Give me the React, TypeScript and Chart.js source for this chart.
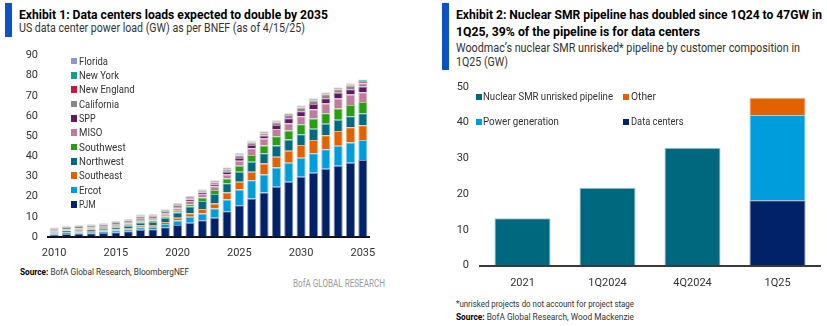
import React, { useEffect, useLayoutEffect, useRef } from "react";
import { Chart, registerables } from "chart.js";
Chart.register(...registerables);

const FONT = "Roboto, 'Noto Sans', 'DejaVu Sans', sans-serif";

// ---------- Exhibit 1 data ----------
const years = ["2010","2011","2012","2013","2014","2015","2016","2017","2018","2019","2020","2021","2022","2023","2024","2025","2026","2027","2028","2029","2030","2031","2032","2033","2034","2035"];
const yearTicksShown = ["2010","2015","2020","2025","2030","2035"];
const pjm = [1.3,1.5,1.7,1.8,2.0,2.4,2.8,3.6,3.8,4.8,6.0,7.1,8.3,9.6,12.8,15.8,19.1,22.1,24.9,27.4,29.9,31.9,33.8,35.3,36.8,38.2];
const ercot = [0.5,0.6,0.6,0.7,0.8,0.9,1.0,1.2,1.3,1.6,2.2,3.0,3.3,4.5,5.8,7.8,9.1,8.9,9.6,9.4,9.4,9.6,9.7,10.0,10.0,9.9];
const southeast = [0.4,0.4,0.5,0.5,0.5,0.6,0.7,0.9,0.9,1.1,1.3,1.7,2.3,2.5,3.5,3.8,4.2,5.5,5.3,6.0,6.3,6.6,6.9,7.3,7.6,7.3];
const northwest = [0.5,0.6,0.6,0.7,0.7,0.9,1.1,1.5,1.6,2.0,2.6,3.3,3.9,4.7,4.5,5.0,4.9,5.0,5.6,5.5,5.3,5.6,5.8,5.6,5.5,6.0];
const southwest = [0.3,0.3,0.4,0.4,0.4,0.5,0.5,0.6,0.6,0.7,0.9,1.1,1.8,2.0,2.4,2.9,3.3,3.9,4.6,4.5,5.0,5.0,5.2,5.5,5.6,5.6];
const miso = [0.4,0.4,0.5,0.5,0.5,0.6,0.7,0.8,0.8,1.0,1.2,1.6,1.7,1.9,2.0,2.5,3.4,3.5,3.6,3.6,4.0,4.7,4.8,5.0,5.2,4.8];
const spp = [0.2,0.2,0.2,0.2,0.3,0.3,0.3,0.4,0.4,0.5,0.6,0.8,0.8,1.0,1.4,1.4,1.6,1.4,1.9,2.5,2.5,2.6,2.6,2.8,2.6,2.8];
const california = [0.8,0.9,0.9,1.0,1.1,1.2,1.2,1.3,1.1,1.2,1.1,0.8,0.8,1.0,1.1,1.3,1.2,1.1,1.4,1.6,1.8,1.7,2.0,1.8,1.8,1.6];
const newEngland = [0.2,0.2,0.2,0.2,0.2,0.2,0.3,0.3,0.3,0.3,0.3,0.3,0.3,0.4,0.4,0.4,0.4,0.5,0.4,0.4,0.4,0.4,0.4,0.4,0.5,0.7];
const newYork = [0.1,0.2,0.2,0.2,0.2,0.2,0.2,0.3,0.3,0.3,0.3,0.3,0.3,0.3,0.3,0.3,0.3,0.4,0.3,0.3,0.3,0.3,0.3,0.2,0.4,0.5];
const florida = [0.1,0.1,0.1,0.1,0.1,0.2,0.2,0.3,0.3,0.3,0.3,0.3,0.2,0.3,0.3,0.3,0.3,0.3,0.3,0.2,0.3,0.3,0.3,0.2,0.3,0.7];
const regionNames = ["PJM","Ercot","Southeast","Northwest","Southwest","MISO","SPP","California","New England","New York","Florida"];
const y1Max = 90;

// ---------- Exhibit 2 data ----------
const periods = ["2021","1Q2024","4Q2024","1Q25"];
const pipeline = [13.3, 21.8, 33.0, null];
const dataCenters = [null, null, null, 18.3];
const powerGeneration = [null, null, null, 23.9];
const otherUse = [null, null, null, 4.8];
const y2Max = 50;

// ---------- styles ----------
const regionColors = ["#012169","#009ddc","#e36200","#006b80","#2a9e12","#c07c9e","#5c1c62","#8f8687","#d3133d","#16a08c","#8a9bc6"];
const regionBorders = ["#8090b4","#80ceed","#f1b080","#80b5c0","#94ce88","#dfbdce","#ad8db0","#c7c2c3","#e9899e","#8acfc5","#c4cde2"];
const c2 = { pipeline: "#00687e", dc: "#012169", pg: "#009ddc", other: "#e36200" };
const c2b = { pipeline: "#9fcad3", dc: "#7a87ad", pg: "#8fd3f0", other: "#f3b58a" };

type FTProps = { x: number; base: number; w: number; size: number; bold?: boolean; color?: string; children: React.ReactNode };
function FitText({ x, base, w, size, bold, color, children }: FTProps) {
  const ref = useRef<HTMLDivElement>(null);
  useLayoutEffect(() => {
    const el = ref.current;
    if (!el) return;
    el.style.transform = "none";
    const nat = el.getBoundingClientRect().width;
    if (nat > 0) el.style.transform = `scaleX(${w / nat})`;
  });
  return (
    <div
      ref={ref}
      style={{
        position: "absolute",
        left: x,
        top: base - size * 0.842,
        fontSize: size,
        lineHeight: `${size}px`,
        fontWeight: bold ? 700 : 400,
        color: color || "#222",
        whiteSpace: "nowrap",
        transformOrigin: "0 0",
        fontFamily: FONT,
      }}
    >
      {children}
    </div>
  );
}

function Box({ x, y, size, color }: { x: number; y: number; size: number; color: string }) {
  return <div style={{ position: "absolute", left: x, top: y, width: size, height: size, background: color }} />;
}

const hiddenTickGrid = (len: number) => ({
  display: true,
  drawOnChartArea: false,
  drawTicks: true,
  tickLength: len,
  color: "rgba(0,0,0,0)",
});

function Chart1() {
  const ref = useRef<HTMLCanvasElement>(null);
  useEffect(() => {
    const series = [pjm, ercot, southeast, northwest, southwest, miso, spp, california, newEngland, newYork, florida];
    const chart = new Chart(ref.current!, {
      type: "bar",
      data: {
        labels: years,
        datasets: series.map((d, i) => ({
          label: regionNames[i],
          data: d,
          backgroundColor: regionColors[i],
          borderColor: regionBorders[i],
          borderWidth: 1,
          barPercentage: 0.74,
          categoryPercentage: 1,
        })),
      },
      options: {
        animation: false,
        responsive: false,
        layout: { padding: { top: 15.5, right: 31, left: 0, bottom: 0 } },
        plugins: { legend: { display: false }, tooltip: { enabled: false } },
        scales: {
          x: {
            stacked: true,
            grid: { display: false, drawTicks: false },
            border: { color: "#111", width: 2 },
            ticks: {
              autoSkip: false,
              maxRotation: 0,
              padding: 10,
              color: "#333",
              font: { family: FONT, size: 11 },
              callback: (_v: any, i: number) => (yearTicksShown.includes(years[i]) ? years[i] : ""),
            },
            afterFit: (s: any) => { s.height = 25; },
          },
          y: {
            stacked: true,
            min: 0,
            max: y1Max,
            grid: hiddenTickGrid(10),
            border: { display: false },
            ticks: { stepSize: 10, padding: 0, color: "#333", font: { family: FONT, size: 11 } },
            afterFit: (s: any) => { s.width = 48; },
          },
        },
      },
    } as any);
    return () => chart.destroy();
  }, []);
  return <canvas ref={ref} width={400} height={222} style={{ position: "absolute", left: 0, top: 40, width: 400, height: 222 }} />;
}

function Chart2() {
  const ref = useRef<HTMLCanvasElement>(null);
  useEffect(() => {
    const mk = (label: string, data: (number | null)[], bg: string, bc: string) => ({
      label, data, backgroundColor: bg, borderColor: bc, borderWidth: 1, barPercentage: 0.66, categoryPercentage: 1,
    });
    const chart = new Chart(ref.current!, {
      type: "bar",
      data: {
        labels: periods,
        datasets: [
          mk("Nuclear SMR unrisked pipeline", pipeline, c2.pipeline, c2b.pipeline),
          mk("Data centers", dataCenters, c2.dc, c2b.dc),
          mk("Power generation", powerGeneration, c2.pg, c2b.pg),
          mk("Other", otherUse, c2.other, c2b.other),
        ],
      },
      options: {
        animation: false,
        responsive: false,
        layout: { padding: { top: 9, right: 7, left: 0, bottom: 0 } },
        plugins: { legend: { display: false }, tooltip: { enabled: false } },
        scales: {
          x: {
            stacked: true,
            grid: { display: false, drawTicks: false },
            border: { color: "#3a3a3a", width: 2 },
            ticks: { maxRotation: 0, padding: 10.5, color: "#333", font: { family: FONT, size: 11 } },
            afterFit: (s: any) => { s.height = 27.3; },
          },
          y: {
            stacked: true,
            min: 0,
            max: y2Max,
            grid: hiddenTickGrid(11),
            border: { display: false },
            ticks: { stepSize: 10, padding: 0, color: "#333", font: { family: FONT, size: 11 } },
            afterFit: (s: any) => { s.width = 70; },
          },
        },
      },
    } as any);
    return () => chart.destroy();
  }, []);
  return <canvas ref={ref} width={417} height={215} style={{ position: "absolute", left: 410, top: 78, width: 417, height: 215 }} />;
}

const legend1 = [
  { name: "Florida", w: 29 },
  { name: "New York", w: 40 },
  { name: "New England", w: 55.7 },
  { name: "California", w: 40 },
  { name: "SPP", w: 16.7 },
  { name: "MISO", w: 23.3 },
  { name: "Southwest", w: 46.7 },
  { name: "Northwest", w: 45 },
  { name: "Southeast", w: 43.3 },
  { name: "Ercot", w: 22.3 },
  { name: "PJM", w: 16.7 },
];

export default function App() {
  const blue = "#0a54c4";
  return (
    <div style={{ position: "absolute", left: 0, top: 0, width: 827, height: 326, background: "#fff", overflow: "hidden", fontFamily: FONT }}>
      {/* Exhibit 1 */}
      <div style={{ position: "absolute", left: 5, top: 3, width: 7, height: 34, background: blue }} />
      <FitText x={19} base={19} w={309} size={12} bold color="#000">Exhibit 1: Data centers loads expected to double by 2035</FitText>
      <FitText x={19} base={31.7} w={286} size={12} color="#333">US data center power load (GW) as per BNEF (as of 4/15/25)</FitText>
      <Chart1 />
      {legend1.map((it, i) => {
        const cy = 61 + i * 14.33;
        const idx = regionNames.indexOf(it.name);
        return (
          <React.Fragment key={it.name}>
            <Box x={70.5} y={cy - 3.3} size={6.5} color={regionColors[idx]} />
            <FitText x={79.3} base={cy + 3.9} w={it.w} size={11} color="#333">{it.name}</FitText>
          </React.Fragment>
        );
      })}
      <FitText x={20} base={275} w={169} size={9.5} color="#333"><b style={{ color: "#000" }}>Source:</b> BofA Global Research, BloombergNEF</FitText>
      <FitText x={293} base={287.7} w={92} size={10} color="#9a9a9a">BofA GLOBAL RESEARCH</FitText>

      {/* Exhibit 2 */}
      <div style={{ position: "absolute", left: 442, top: 3, width: 7, height: 67, background: blue }} />
      <FitText x={455.7} base={19} w={366} size={12} bold color="#000">Exhibit 2: Nuclear SMR pipeline has doubled since 1Q24 to 47GW in</FitText>
      <FitText x={455.7} base={36} w={244} size={12} bold color="#000">1Q25, 39% of the pipeline is for data centers</FitText>
      <FitText x={455.7} base={51.7} w={344} size={12} color="#333">Woodmac’s nuclear SMR unrisked* pipeline by customer composition in</FitText>
      <FitText x={455.7} base={65.7} w={52} size={12} color="#333">1Q25 (GW)</FitText>
      <Chart2 />
      <Box x={475.7} y={94} size={6} color={c2.pipeline} />
      <FitText x={483} base={100.8} w={130} size={10.5} color="#333">Nuclear SMR unrisked pipeline</FitText>
      <Box x={622.7} y={94} size={6} color={c2.other} />
      <FitText x={631} base={100.8} w={25} size={10.5} color="#333">Other</FitText>
      <Box x={475.7} y={119.3} size={6} color={c2.pg} />
      <FitText x={483} base={126} w={76} size={10.5} color="#333">Power generation</FitText>
      <Box x={622.7} y={119.3} size={6} color={c2.dc} />
      <FitText x={631} base={126} w={52.5} size={10.5} color="#333">Data centers</FitText>
      <FitText x={455.7} base={306.5} w={178} size={9.5} color="#333">*unrisked projects do not account for project stage</FitText>
      <FitText x={455.7} base={320} w={178} size={9.5} color="#333"><b style={{ color: "#000" }}>Source:</b> BofA Global Research, Wood Mackenzie</FitText>
    </div>
  );
}
